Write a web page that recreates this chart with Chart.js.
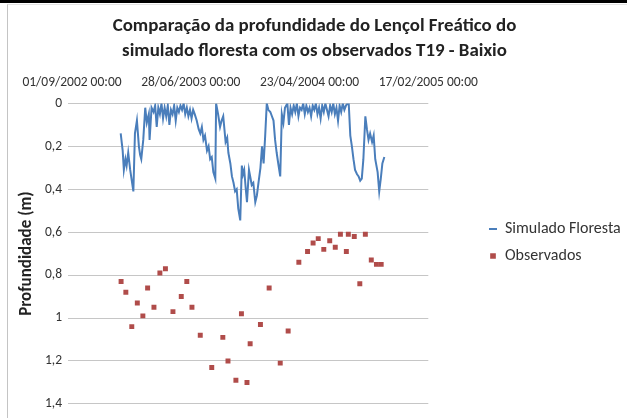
<!DOCTYPE html>
<html>
<head>
<meta charset="utf-8">
<script src="https://cdn.jsdelivr.net/npm/chart.js@4/dist/chart.umd.min.js"></script>
<style>
  html, body { margin: 0; padding: 0; background: #fff; }
  #wrap { position: absolute; left: 0; top: 0; width: 627px; height: 418px; overflow: hidden; }
  #topbar { position: absolute; left: 0; top: 0; width: 627px; height: 3px; background: #000; }
  #frame { position: absolute; left: 7px; top: 4px; width: 640px; height: 430px;
           border-left: 1px solid #c4c4c4; border-top: 1px solid #e4e4e4; }
  #box { position: absolute; left: 0; top: 0; width: 627px; height: 418px; }
</style>
</head>
<body>
<div id="wrap">
  <div id="topbar"></div>
  <div id="frame"></div>
  <div id="box"><canvas id="chart"></canvas></div>
</div>
<script>
/* === DADOS (dias desde 01/09/2002, profundidade em m) === */
const xTickLabels = ["01/09/2002 00:00", "28/06/2003 00:00", "23/04/2004 00:00", "17/02/2005 00:00"];
const yTickValues = [0, 0.2, 0.4, 0.6, 0.8, 1, 1.2, 1.4];

const simDays = [
  123,128,131,135,138,142,147,151,155,159,164,169,172,175,180,185,189,194,196,201,
  206,210,214,218,222,226,230,234,238,242,246,250,254,258,262,266,270,274,278,282,
  286,290,294,298,302,306,310,315,320,324,328,332,336,341,345,349,353,357,362,364,
  369,374,378,382,388,392,395,400,404,408,412,416,420,425,429,432,435,439,442,447,
  451,454,458,463,467,471,476,480,484,488,492,496,501,505,509,513,517,521,526,530,
  534,538,544,548,552,556,560,564,568,572,576,580,584,588,592,596,600,604,608,612,
  616,620,624,628,632,636,640,644,648,652,656,660,664,668,672,676,680,684,688,692,
  696,699,703,707,711,715,720,724,728,732,736,741,745,749,753,758,762,766,772,776,
  780,784,789
];
const simDepth = [
  0.14,0.22,0.31,0.26,0.29,0.23,0.31,0.36,0.41,0.14,0.08,0.20,0.24,0.26,0.17,0.02,0.09,0.05,0.17,0.02,
  0.04,0.01,0.11,0.02,0.05,0.00,0.07,0.02,0.06,0.01,0.10,0.03,0.05,0.01,0.08,0.02,0.04,0.01,0.03,0.00,
  0.05,0.02,0.06,0.03,0.07,0.03,0.05,0.08,0.12,0.14,0.11,0.17,0.15,0.22,0.20,0.26,0.25,0.32,0.35,0.00,
  0.05,0.11,0.08,0.06,0.18,0.16,0.23,0.28,0.34,0.37,0.41,0.40,0.49,0.545,0.29,0.33,0.31,0.40,0.46,0.31,
  0.35,0.38,0.37,0.46,0.43,0.37,0.30,0.20,0.28,0.15,0.00,0.03,0.04,0.06,0.08,0.17,0.23,0.28,0.34,0.05,
  0.09,0.02,0.00,0.10,0.02,0.05,0.01,0.04,0.00,0.06,0.02,0.03,0.00,0.05,0.01,0.04,0.02,0.06,0.01,0.03,
  0.00,0.05,0.02,0.07,0.01,0.04,0.00,0.03,0.06,0.01,0.04,0.00,0.05,0.02,0.08,0.01,0.04,0.00,0.03,0.01,
  0.00,0.00,0.15,0.20,0.26,0.31,0.33,0.34,0.36,0.35,0.26,0.06,0.12,0.17,0.14,0.18,0.15,0.26,0.32,0.41,
  0.35,0.28,0.25
];

const obsDays = [124,136,151,165,179,191,207,222,236,255,276,290,303,324,353,381,394,414,428,442,
                 450,476,498,526,546,573,595,609,622,636,651,665,678,693,698,713,727,741,756,769,781];
const obsDepth = [0.83,0.88,1.04,0.93,0.99,0.86,0.95,0.79,0.77,0.97,0.90,0.83,0.95,1.08,1.23,1.09,1.20,1.29,0.98,1.30,
                  1.12,1.03,0.86,1.21,1.06,0.74,0.69,0.65,0.63,0.68,0.64,0.67,0.61,0.69,0.61,0.62,0.84,0.61,0.73,0.75,0.75];

const FONT = "Carlito, Lato, sans-serif";
const LEGEND_LEFT = 478;   // posição da legenda (px)
const LEGEND_DY = 37;

const simPts = simDays.map((d, i) => ({ x: d, y: simDepth[i] }));
const obsPts = obsDays.map((d, i) => ({ x: d, y: obsDepth[i] }));

function fmtDec(v){
  return String(Math.round(v * 10) / 10).replace(".", ",");
}

// desloca a legenda para a posição do original
const legendShift = {
  id: "legendShift",
  afterLayout(chart){
    const lg = chart.legend;
    if (!lg) return;
    const dx = LEGEND_LEFT - lg.left;
    lg.left += dx; lg.right += dx;
    lg.top += LEGEND_DY; lg.bottom += LEGEND_DY;
  }
};

const ctx = document.getElementById("chart").getContext("2d");
const chart = new Chart(ctx, {
  type: "scatter",
  plugins: [legendShift],
  data: {
    datasets: [
      {
        label: "Simulado Floresta",
        data: simPts,
        showLine: true,
        borderColor: "#4a7ebb",
        backgroundColor: "#4a7ebb",
        borderWidth: 2,
        pointRadius: 0,
        pointStyle: "line",
        pointBorderWidth: 2,
        tension: 0
      },
      {
        label: "Observados",
        data: obsPts,
        showLine: false,
        backgroundColor: "#b04c4a",
        borderColor: "#b04c4a",
        pointStyle: "rect",
        pointRadius: 3.5,
        pointBorderWidth: 0
      }
    ]
  },
  options: {
    responsive: true,
    maintainAspectRatio: false,
    animation: false,
    layout: { padding: { top: 3, left: 2, right: 0, bottom: 10 } },
    plugins: {
      title: {
        display: true,
        text: ["Comparação da profundidade do Lençol Freático do",
               "simulado floresta com os observados T19 - Baixio"],
        color: "#222",
        font: { family: FONT, size: 18.9, weight: "bold", lineHeight: 1.32 },
        padding: { top: 10.5, bottom: 4 }
      },
      legend: {
        position: "right",
        align: "center",
        maxWidth: 230,
        labels: {
          usePointStyle: true,
          boxWidth: 8,
          boxHeight: 5.66,
          padding: 11,
          color: "#333",
          font: { family: FONT, size: 16 }
        }
      },
      tooltip: { enabled: false }
    },
    scales: {
      x: {
        type: "linear",
        position: "top",
        min: 0,
        max: 900,
        grid: { display: false, drawTicks: false },
        border: { display: false },
        ticks: {
          stepSize: 300,
          autoSkip: false,
          maxRotation: 0,
          padding: 13,
          color: "#333",
          font: { family: FONT, size: 13.5 },
          callback: (v) => xTickLabels[Math.round(v / 300)]
        },
        afterFit: (s) => { s.height = 36; }
      },
      y: {
        reverse: true,
        min: 0,
        max: 1.4,
        afterBuildTicks: (s) => { s.ticks = yTickValues.map(v => ({ value: v })); },
        grid: { color: "#c6c6c6", tickLength: 4 },
        border: { display: false },
        ticks: {
          padding: 6,
          color: "#333",
          font: { family: FONT, size: 13.5 },
          callback: (v) => fmtDec(v)
        },
        title: {
          display: true,
          text: "Profundidade (m)",
          color: "#222",
          font: { family: FONT, size: 17, weight: "bold" },
          padding: { top: 15, bottom: 0 }
        },
        afterFit: (s) => { s.width = 70; }
      },
      gap: {
        position: "right",
        display: true,
        grid: { display: false },
        border: { display: false },
        ticks: { display: false },
        afterFit: (s) => { s.width = 46; }
      }
    }
  }
});
</script>
</body>
</html>
